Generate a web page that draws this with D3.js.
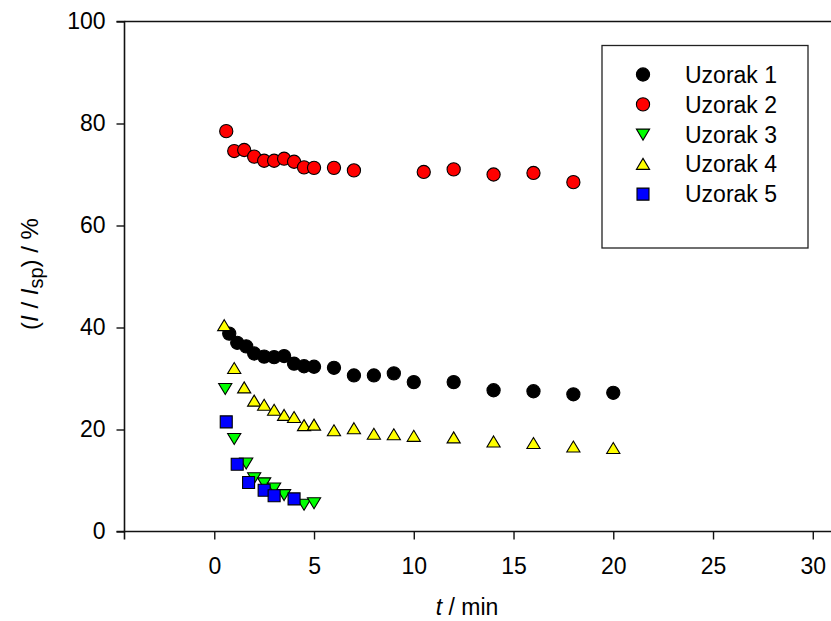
<!DOCTYPE html>
<html><head><meta charset="utf-8">
<script src="https://cdn.jsdelivr.net/npm/d3@7"></script>
<style>
body{margin:0;background:#fff;}
text{font-family:"Liberation Sans",Arial,sans-serif;fill:#000;}
</style></head>
<body><svg id="c" width="831" height="621"></svg>
<script>
// ---- data ----
const seriesNames = ["Uzorak 1","Uzorak 2","Uzorak 3","Uzorak 4","Uzorak 5"];
const t1 = [0.75,1.15,1.6,2,2.5,3,3.5,4,4.5,5,6,7,8,9,10,12,14,16,18,20];
const y1 = [38.8,37.0,36.3,34.9,34.3,34.2,34.4,32.9,32.4,32.3,32.1,30.6,30.6,31.0,29.3,29.3,27.7,27.5,26.9,27.2];
const t2 = [0.6,1,1.5,2,2.5,3,3.5,4,4.5,5,6,7,10.5,12,14,16,18];
const y2 = [78.5,74.6,74.8,73.5,72.7,72.7,73.1,72.5,71.4,71.3,71.3,70.8,70.5,71.0,70.0,70.3,68.5];
const t3 = [0.55,1,1.6,2,2.5,3,3.5,4.5,5];
const y3 = [28.0,18.2,13.4,10.5,9.5,8.5,7.2,5.3,5.6];
const t4 = [0.5,1,1.5,2,2.5,3,3.5,4,4.5,5,6,7,8,9,10,12,14,16,18,20];
const y4 = [40.4,32.0,28.2,25.6,24.8,23.8,22.8,22.4,20.8,20.9,19.8,20.2,19.1,19.0,18.7,18.4,17.6,17.3,16.6,16.3];
const t5 = [0.6,1.15,1.72,2.5,3,4];
const y5 = [21.5,13.2,9.6,8.1,7.0,6.4];
const xTicks = [0,5,10,15,20,25,30];
const yTicks = [0,20,40,60,80,100];

// ---- styles ----
const fills = ["#000000","#ff0000","#00ff00","#ffff00","#0000ff"];
const shapes = ["circle","circle","down","up","square"];

const svg = d3.select("#c");
const xMin = -4.5, xMax = 32;
const x = d3.scaleLinear().domain([xMin, xMax]).range([124.5, 124.5 + (xMax - xMin) * 19.95]);
const y = d3.scaleLinear().domain([0, 100]).range([531.5, 21.5]);

function shapePath(s){
  if (s === "circle") return d3.symbol(d3.symbolCircle, Math.PI*6.6*6.6)();
  if (s === "square") return "M-6,-6H6V6H-6Z";
  if (s === "up") return "M0,-5.8L6.6,5.2L-6.6,5.2Z";
  if (s === "down") return "M0,5.8L6.6,-5.2L-6.6,-5.2Z";
}

// axes
const fs = "23px";
const xAxis = svg.append("g").attr("transform", `translate(0,${y(0)})`)
  .call(d3.axisBottom(x).tickValues(xTicks).tickSize(8).tickPadding(18).tickFormat(d3.format("d")));
const yAxis = svg.append("g").attr("transform", `translate(${x(xMin)},0)`)
  .call(d3.axisLeft(y).tickValues(yTicks).tickSize(8).tickPadding(11).tickFormat(d3.format("d")));
[xAxis, yAxis].forEach(g => {
  g.select(".domain").attr("stroke","#111").attr("stroke-width",1.6);
  g.selectAll(".tick line").attr("stroke","#111").attr("stroke-width",1.4);
  g.selectAll(".tick text").style("font-size", fs).attr("fill","#000")
    .style("font-family",'"Liberation Sans",Arial,sans-serif');
});
yAxis.select(".domain").attr("d", `M-8,${y(100)}H0V${y(0)}H-8`);
xAxis.select(".domain").attr("d", `M${x(xMin)},8V0H${x(xMax)}V8`);
// top frame line
svg.append("line").attr("x1", x(xMin)).attr("x2", x(xMax))
  .attr("y1", y(100)).attr("y2", y(100)).attr("stroke","#111").attr("stroke-width",1.6);

// data
const ts = [t1,t2,t3,t4,t5], ys = [y1,y2,y3,y4,y5];
ts.forEach((tt, i) => {
  const pts = tt.map((t, j) => ({t, v: ys[i][j]}));
  svg.append("g").selectAll("path").data(pts).join("path")
    .attr("d", shapePath(shapes[i]))
    .attr("transform", d => `translate(${x(d.t)},${y(d.v)})`)
    .attr("fill", fills[i]).attr("stroke", "#000").attr("stroke-width", 1.1);
});

// legend
const lg = svg.append("g");
lg.append("rect").attr("x",602).attr("y",45.5).attr("width",206).attr("height",202.5)
  .attr("fill","#fff").attr("stroke","#222").attr("stroke-width",1.3);
seriesNames.forEach((n, i) => {
  const yy = 74.5 + i * 29.9;
  lg.append("path").attr("d", shapePath(shapes[i])).attr("transform", `translate(643,${yy})`)
    .attr("fill", fills[i]).attr("stroke","#000").attr("stroke-width",1.1);
  lg.append("text").attr("x",685).attr("y",yy).attr("dy","0.36em").style("font-size",fs).text(n);
});

// axis titles
const xt = svg.append("text").attr("x", 467).attr("y", 615).attr("text-anchor","middle").style("font-size",fs);
xt.append("tspan").style("font-style","italic").text("t");
xt.append("tspan").text(" / min");

const yt = svg.append("text").attr("transform","translate(38,274) rotate(-90)").attr("text-anchor","middle").style("font-size","24px");
yt.append("tspan").text("(");
yt.append("tspan").style("font-style","italic").text("I");
yt.append("tspan").text(" / ");
yt.append("tspan").style("font-style","italic").text("I");
yt.append("tspan").attr("dy","5").style("font-size","20px").text("sp");
yt.append("tspan").attr("dy","-5").text(") / %");
</script></body></html>
